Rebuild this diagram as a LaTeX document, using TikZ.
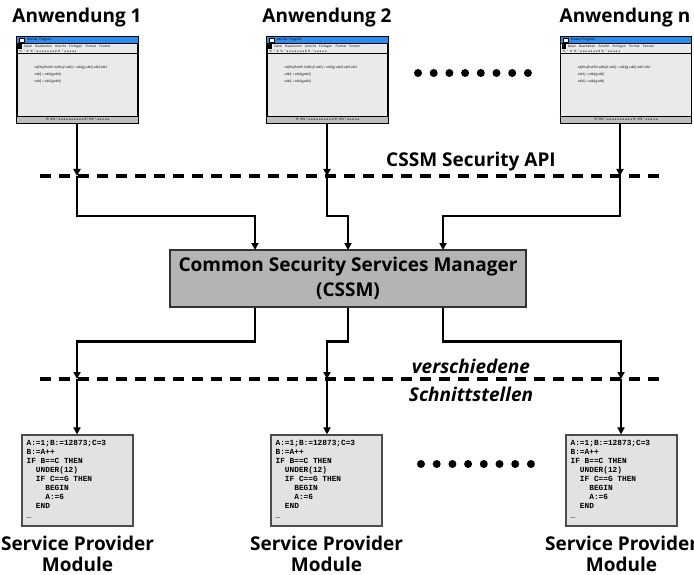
\documentclass[tikz,border=0pt]{standalone}
\usepackage{fontspec}
\setmainfont{Open Sans}
\setmonofont{Liberation Mono}
\usetikzlibrary{arrows.meta}

\definecolor{titleblue}{RGB}{40,140,240}
\definecolor{wingray}{RGB}{234,234,234}
\definecolor{bargray}{RGB}{190,190,190}
\definecolor{cssmgray}{RGB}{180,180,180}
\definecolor{codegray}{RGB}{226,226,226}

\begin{document}
\begin{tikzpicture}[x=1pt, y=-1pt, >={Triangle[width=7pt,length=7pt]},
    font=\bfseries\fontsize{19}{21}\selectfont,
    win/.style={draw, line width=1.6pt, fill=wingray, minimum width=121pt,
      minimum height=86pt, inner sep=0pt},
    tiny/.style={font=\fontsize{3.2}{4}\selectfont, inner sep=0pt},
    code/.style={draw=black!70, line width=1.2pt, fill=codegray,
      minimum width=111pt, minimum height=91pt, inner sep=0pt},
    listing/.style={anchor=north west, inner sep=0pt, align=left,
      font=\ttfamily\bfseries\fontsize{7.8}{9}\selectfont},
    manager/.style={draw=black!80, line width=1.2pt, fill=cssmgray,
      minimum width=356pt, minimum height=57pt, align=center,
      font=\bfseries\fontsize{19}{25}\selectfont},
    api/.style={line width=4pt, dash pattern=on 11pt off 8pt},
    link/.style={line width=2.6pt},
    dot/.style={circle, fill, inner sep=0pt, minimum size=8pt},
    label/.style={align=center, inner sep=0pt}]

  \useasboundingbox (0,0) rectangle (694,575);

% ---------------- the applications on top
  \node[label] (t1) at (77,18) {Anwendung 1};
  \node[label] (t2) at (327,18) {Anwendung 2};
  \node[label] (tn) at (625,18) {Anwendung n};

  \node[win] (win1) at (77.5,80) {};
  \node[win] (win2) at (327.5,80) {};
  \node[win, minimum width=131pt] (winn) at (626,80) {};

% window decoration: title bar, menu, tool row, text lines, status bar
  \foreach \w in {win1,win2,winn} {
    \fill[titleblue] ([shift={(1,1)}]\w.north west) rectangle ([shift={(-1,7)}]\w.north east);
    \draw[fill=white, line width=0.4pt] ([shift={(3,2)}]\w.north west) rectangle ++(5,4);
    \node[tiny, anchor=west] at ([shift={(11,4)}]\w.north west) {Muster Program};
    \draw[line width=0.5pt] ([shift={(0,7)}]\w.north west) -- ([shift={(0,7)}]\w.north east);
    \draw[fill=black, line width=0.4pt] ([shift={(2,8.5)}]\w.north west) rectangle ++(3,3.5);
    \node[tiny, anchor=west] at ([shift={(8,10)}]\w.north west)
      {Datei\quad Bearbeiten\quad Ansicht\quad Einfügen\quad Format\quad Fenster};
    \node[tiny, anchor=west] at ([shift={(3,15)}]\w.north west)
      {\%\enspace °\enspace\#\enspace \%\enspace ° a a a a a a a \# \%\enspace ° a a a a a};
    \draw[line width=0.5pt] ([shift={(0,17)}]\w.north west) -- ([shift={(0,17)}]\w.north east);
    \node[tiny, anchor=west] at ([shift={(18,31)}]\w.north west)
      {sdjfhsjfhskfh lsdfksjf sdkfj = sdkfjg sdkfj sdkf sdkf};
    \node[tiny, anchor=west] at ([shift={(18,38)}]\w.north west) {sdkfj = sdkfjgsdkfj};
    \node[tiny, anchor=west] at ([shift={(18,45)}]\w.north west) {sdkfj = sdkfjgsdkfj};
    \fill[bargray] ([shift={(1,-8)}]\w.south west) rectangle ([shift={(-1,-1)}]\w.south east);
    \draw[line width=0.5pt] ([shift={(0,-8)}]\w.south west) -- ([shift={(0,-8)}]\w.south east);
    \node[tiny] at ([shift={(0,-4.5)}]\w.south)
      {\%° \#\% ° a a a a a a a a a a \%° \#\% ° a a a a a};
  }

  \foreach \i in {0,...,7}
    \node[dot] at (418+\i*15.7,73) {};

% ---------------- the API line
  \coordinate (apiL) at (40,176);
  \coordinate (apiR) at (665,176);
  \draw[api] (apiL) -- (apiR);
  \node[label] (apitext) at (471,162) {CSSM Security API};

% ---------------- the manager
  \node[manager] (cssm) at (348,278.5) {Common Security Services Manager\\(CSSM)};

  \coordinate (x1) at (77,176);
  \coordinate (x2) at (327,176);
  \coordinate (xn) at (620,176);
  \coordinate (in1) at (255,250);
  \coordinate (in2) at (348,250);
  \coordinate (inn) at (443,250);

  \draw[link,->] (win1.south -| x1) -- (x1);
  \draw[link,->] (win2.south -| x2) -- (x2);
  \draw[link,->] (winn.south -| xn) -- (xn);
  \draw[link,->] (x1) -- ++(0,40) -| (in1);
  \draw[link,->] (x2) -- ++(0,40) -| (in2);
  \draw[link,->] (xn) -- ++(0,40) -| (inn);

% ---------------- the interfaces below
  \coordinate (spiL) at (40,379);
  \coordinate (spiR) at (665,379);
  \draw[api] (spiL) -- (spiR);
  \node[label, font=\bfseries\itshape\fontsize{19}{28}\selectfont] (spitext) at (471,380)
    {verschiedene\\Schnittstellen};

% ---------------- the service provider modules
  \foreach \n/\x in {1/77.5, 2/326.5, 3/621.5} {
    \node[code] (spm\n) at (\x,480.5) {};
    \node[listing] (lst\n) at ([shift={(5,6)}]spm\n.north west)
      {A:=1;B:=12873;C=3\\B:=A++\\IF B==C THEN\\
       \ \ UNDER(12)\\\ \ IF C==G THEN\\\ \ \ \ BEGIN\\\ \ \ \ A:=6\\
       \ \ END\\\_};
    \node[label] (lab\n) at (\x,554) {Service Provider\\Module};
  }

  \coordinate (y1) at (77,379);
  \coordinate (y2) at (327,379);
  \coordinate (y3) at (621,379);

  \draw[link,->] (in1 |- cssm.south) -- ++(0,34) -| (y1);
  \draw[link,->] (in2 |- cssm.south) -- ++(0,34) -| (y2);
  \draw[link,->] (inn |- cssm.south) -- ++(0,34) -| (y3);
  \draw[link,->] (y1) -- (y1 |- spm1.north);
  \draw[link,->] (y2) -- (y2 |- spm2.north);
  \draw[link,->] (y3) -- (y3 |- spm3.north);

  \foreach \i in {0,...,7}
    \node[dot] at (421+\i*15.7,464) {};
\end{tikzpicture}
\end{document}
